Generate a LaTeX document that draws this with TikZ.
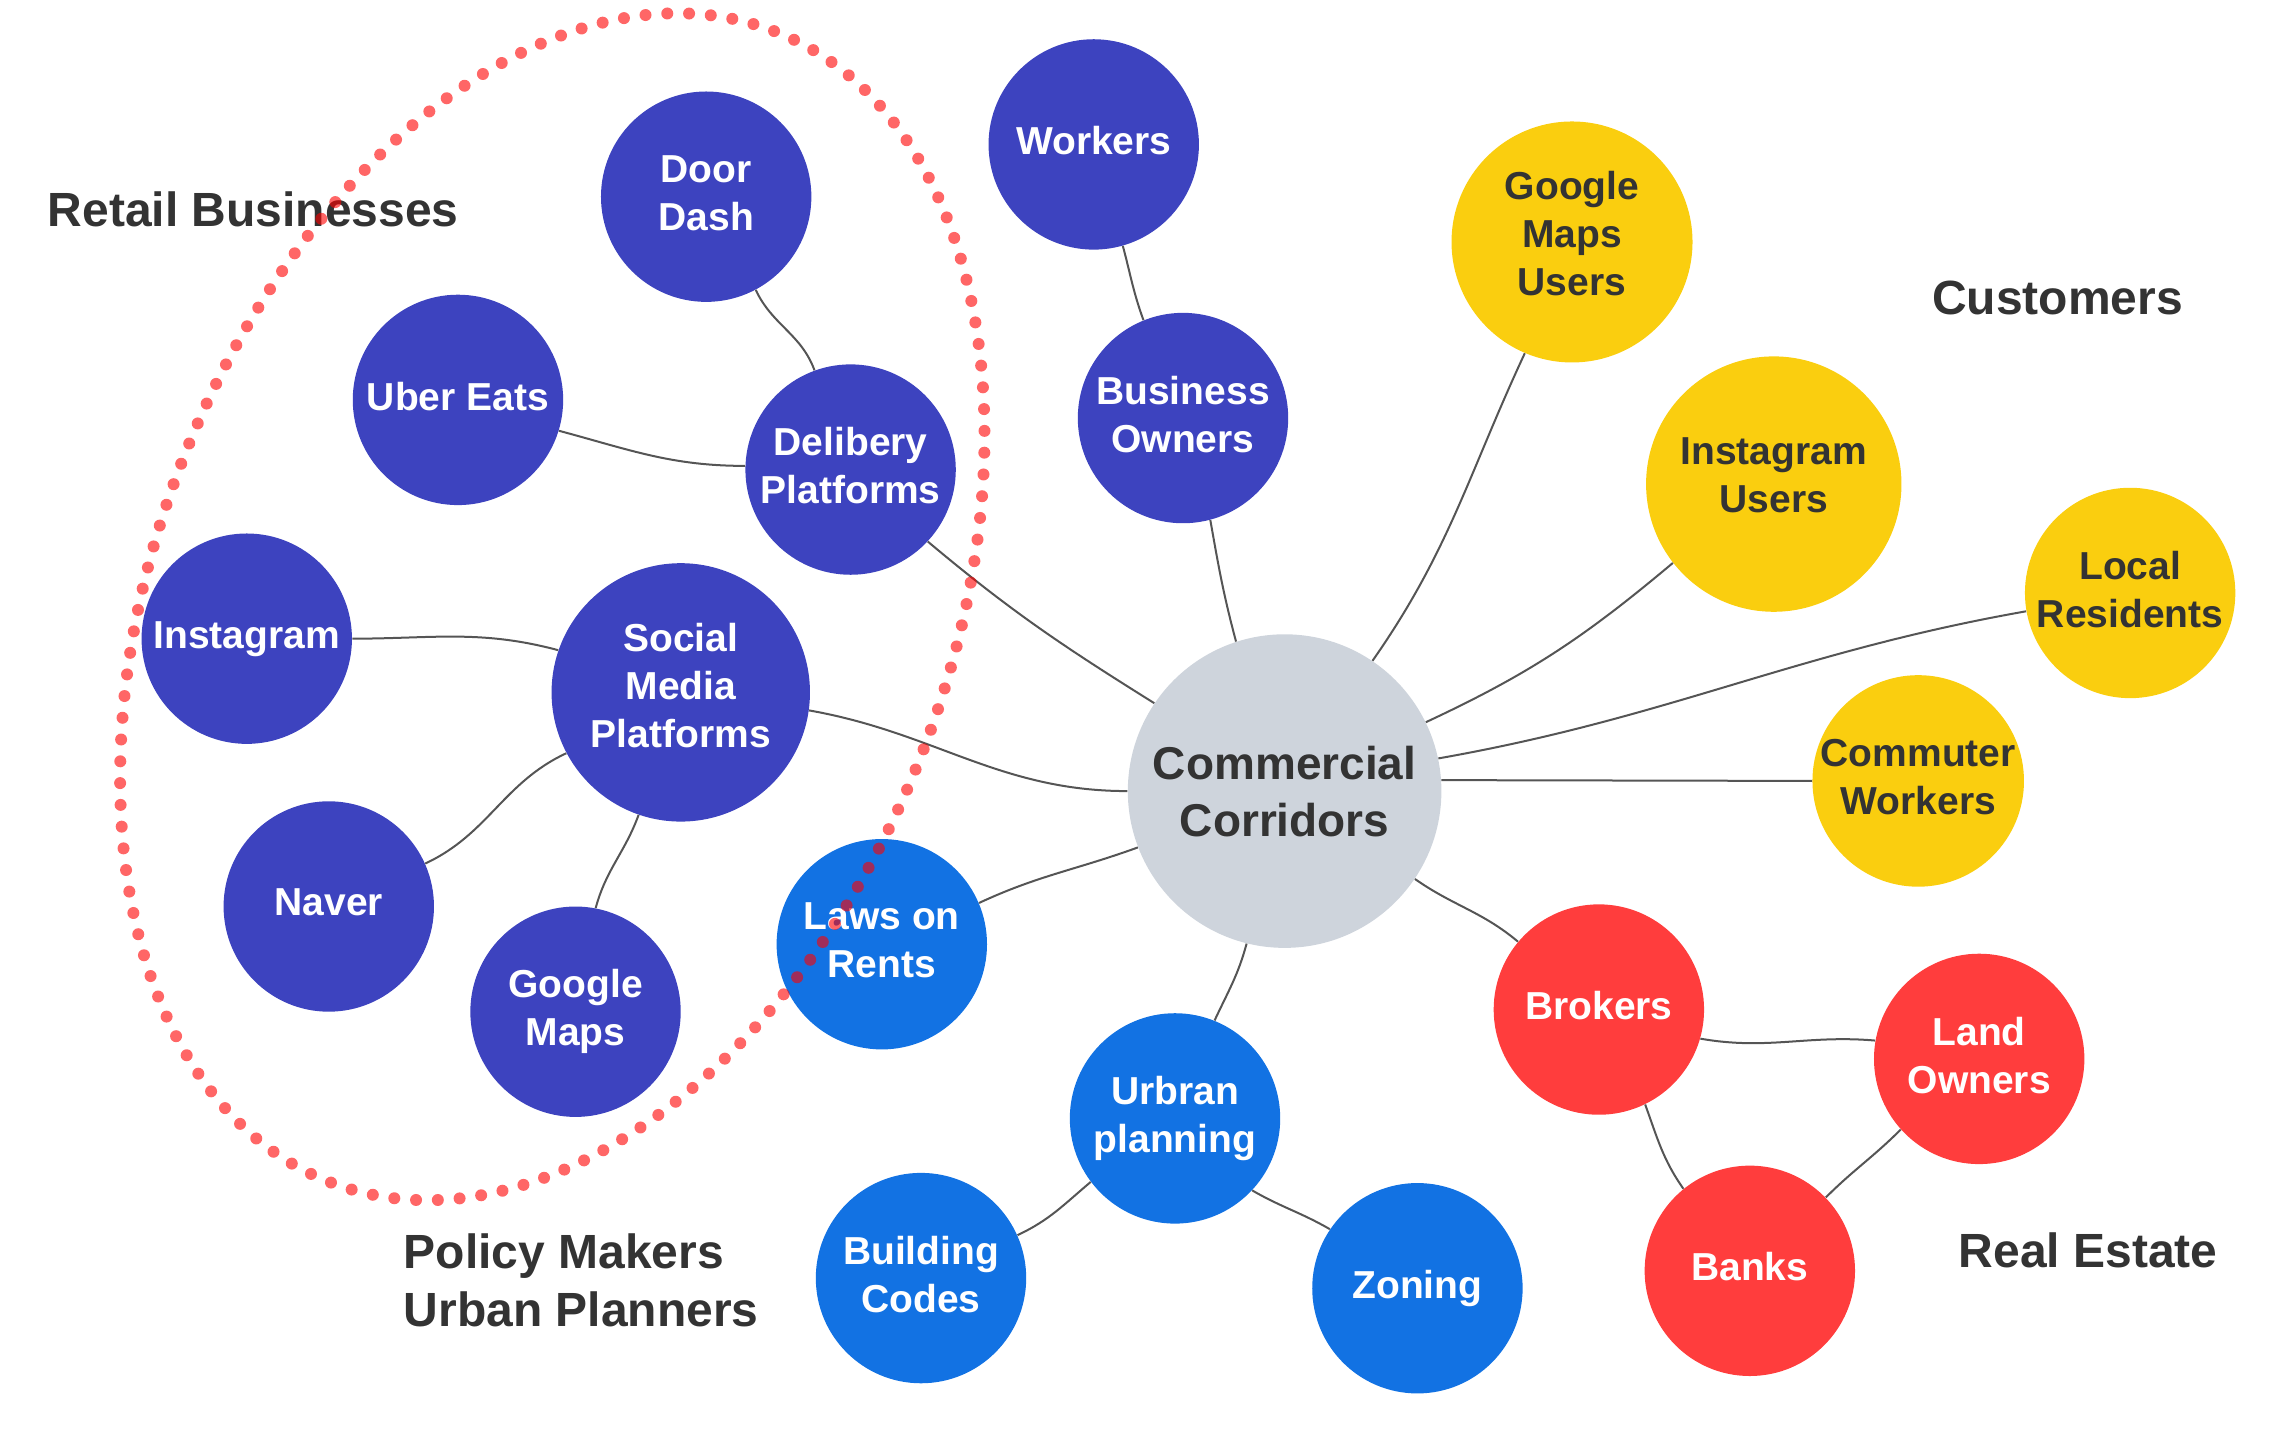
\documentclass[tikz,border=0pt]{standalone}
\usepackage{fontspec}
\setmainfont{Liberation Sans}
\definecolor{cpurple}{HTML}{3D43BF}
\definecolor{cyellow}{HTML}{FACE0F}
\definecolor{cred}{HTML}{FF3D3D}
\definecolor{cblue}{HTML}{1272E3}
\definecolor{cgray}{HTML}{CED4DC}
\definecolor{ctext}{HTML}{333333}
\definecolor{cline}{HTML}{555555}
\newcommand\bubfont{\fontsize{19.5}{24}\selectfont\bfseries}
\newcommand\grpfont{\fontsize{24}{29}\selectfont\bfseries}
\tikzset{
  bub/.style={circle, inner sep=0pt, minimum size=105.2pt, align=center, font=\bubfont, text depth=4pt},
  purp/.style={bub, fill=cpurple, text=white},
  yel/.style={bub, fill=cyellow, text=ctext},
  redb/.style={bub, fill=cred, text=white},
  blu/.style={bub, fill=cblue, text=white},
  conn/.style={draw=cline, line width=1pt},
  grp/.style={anchor=base west, inner sep=0pt, font=\grpfont, text=ctext},
  dotring/.style={draw=red, draw opacity=0.6, line width=6pt, line cap=round, dash pattern=on 0pt off 10.9pt}
}
\begin{document}
\begin{tikzpicture}[x=0.7258pt, y=-0.7258pt]
\useasboundingbox (0,0) rectangle (1568,988);

% nodes
\node[purp] (doordash) at (486.5,135.5) {Door\\Dash};
\node[purp] (workers) at (753.5,99.5) {Workers};
\node[yel, minimum size=120.5pt, text depth=8.5pt] (gmu) at (1083,166.7) {Google\\Maps\\Users};
\node[purp] (uber) at (315.5,275.5) {Uber Eats};
\node[purp] (deli) at (586,323.5) {Delibery\\Platforms};
\node[purp] (bizown) at (815,288) {Business\\Owners};
\node[yel, minimum size=127.7pt, text depth=9pt] (igu) at (1222,333.5) {Instagram\\Users};
\node[yel] (local) at (1467.5,408.5) {Local\\Residents};
\node[purp] (insta) at (170,440) {Instagram};
\node[purp, minimum size=129.2pt, text depth=7pt] (social) at (469,477) {Social\\Media\\Platforms};
\node[bub, fill=cgray, text=ctext, minimum size=156.8pt, text depth=0pt,
      font=\fontsize{23}{28.5}\selectfont\bfseries] (cc) at (885,545) {Commercial\\Corridors};
\node[yel] (commuter) at (1321.5,538) {Commuter\\Workers};
\node[purp] (naver) at (226.5,624.5) {Naver};
\node[blu] (laws) at (607.5,650.5) {Laws on\\Rents};
\node[purp] (gmaps) at (396.5,697) {Google\\Maps};
\node[redb] (brokers) at (1101.5,695.5) {Brokers};
\node[redb] (land) at (1363.5,729.5) {Land\\Owners};
\node[blu] (urban) at (809.5,770.5) {Urbran\\planning};
\node[blu] (building) at (634.5,880.5) {Building\\Codes};
\node[blu] (zoning) at (976.5,887.5) {Zoning};
\node[redb] (banks) at (1205.5,875.5) {Banks};

% group labels
\node[grp] (lretail) at (32.6,156.2) {Retail Businesses};
\node[grp] (lcust) at (1330.8,216.5) {Customers};
\node[grp] (lpolicy) at (277.9,873.8) {Policy Makers};
\node[grp] (lurban) at (277.9,913.8) {Urban Planners};
\node[grp] (lreal) at (1349.2,873.1) {Real Estate};

% connectors
\draw[conn] (doordash.-62) to[out=-65,in=110] (deli.110);
\draw[conn] (uber.-17) to[out=-15,in=180] (deli.178);
\draw[conn] (deli.-43) to[out=-40,in=148] (cc.146);
\draw[conn] (workers.-74) to[out=-75,in=110] (bizown.112);
\draw[conn] (bizown.-75) to[out=-80,in=105] (cc.108);
\draw[conn] (gmu.-113) to[out=-115,in=55] (cc.56);
\draw[conn] (igu.-142) to[out=-140,in=25] (cc.26);
\draw[conn] (local.190) to[out=190,in=10] (cc.12);
\draw[conn] (commuter.180) -- (cc.4);
\draw[conn] (brokers.140) to[out=140,in=-35] (cc.-34);
\draw[conn] (brokers.-16) to[out=-10,in=175] (land.170);
\draw[conn] (brokers.-64) to[out=-70,in=125] (banks.129);
\draw[conn] (land.-138) to[out=-135,in=45] (banks.44);
\draw[conn] (urban.68) to[out=65,in=-105] (cc.-104);
\draw[conn] (urban.-143) to[out=-140,in=25] (building.24);
\draw[conn] (urban.-43) to[out=-30,in=150] (zoning.146);
\draw[conn] (laws.23) to[out=25,in=200] (cc.201);
\draw[conn] (social.-8) to[out=-10,in=180] (cc.180);
\draw[conn] (insta.0) to[out=0,in=165] (social.161);
\draw[conn] (naver.24) to[out=25,in=205] (social.208);
\draw[conn] (gmaps.79) to[out=75,in=-110] (social.-109);

% dotted grouping ellipse
\draw[dotring, rotate around={-21:(380.5,418)}] (380.5,418) ellipse [x radius=274, y radius=425];
\end{tikzpicture}
\end{document}
